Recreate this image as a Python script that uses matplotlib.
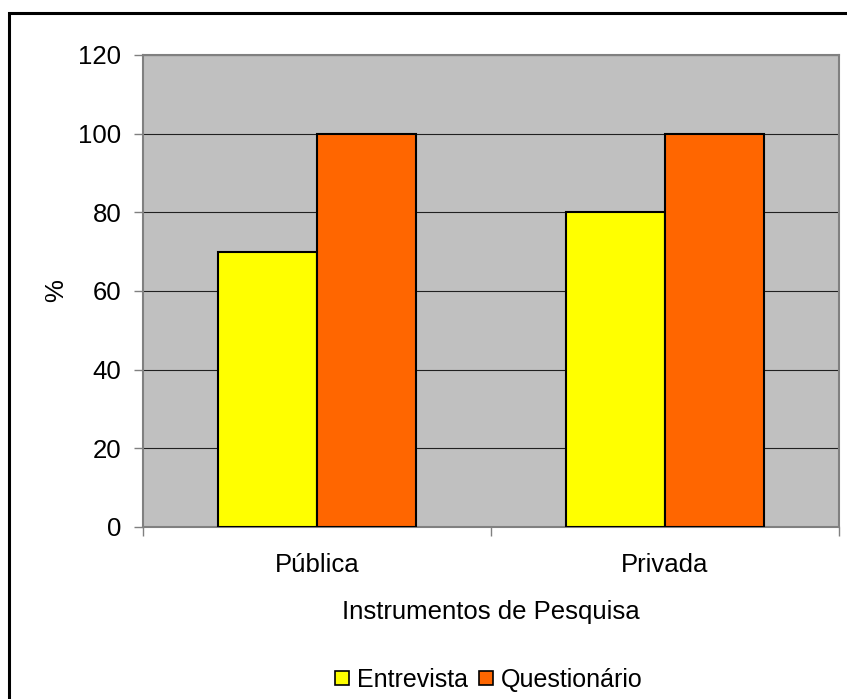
import matplotlib
matplotlib.use("Agg")
import matplotlib.pyplot as plt
from matplotlib.patches import Rectangle
from matplotlib.lines import Line2D
import numpy as np

plt.rcParams["font.family"] = ["Liberation Sans", "DejaVu Sans"]
plt.rcParams["font.size"] = 18.5

categories = ["Pública", "Privada"]
series_names = ["Entrevista", "Questionário"]
entrevista = [70, 80]
questionario = [100, 100]
y_ticks = [0, 20, 40, 60, 80, 100, 120]

colors = ["#FFFF00", "#FF6600"]

fig = plt.figure(figsize=(8.47, 6.99), dpi=100)
ax = fig.add_axes([143 / 847, 172 / 699, 696 / 847, 472 / 699])
ax.set_facecolor("#C0C0C0")

x = np.arange(len(categories))
w = 1 / 3.5
ax.bar(x - w / 2, entrevista, w, color=colors[0], edgecolor="black", linewidth=1.5, zorder=3)
ax.bar(x + w / 2, questionario, w, color=colors[1], edgecolor="black", linewidth=1.5, zorder=3)

ax.set_xlim(-0.5, len(categories) - 0.5)
ax.set_ylim(0, 120)
ax.set_yticks(y_ticks)
ax.yaxis.grid(True, color="#202020", linewidth=0.8, zorder=1)
ax.set_axisbelow(True)

# category labels centred, ticks on the boundaries
ax.set_xticks(x)
ax.set_xticklabels(categories)
ax.set_xticks(np.arange(-0.5, len(categories)), minor=True)
ax.tick_params(axis="x", which="major", length=0, pad=19)
ax.tick_params(axis="x", which="minor", length=6.5, width=1, color="#808080", direction="out")
ax.tick_params(axis="y", length=6.5, width=1, color="#808080", direction="out", pad=9)

for s in ax.spines.values():
    s.set_color("#808080")
    s.set_linewidth(1.5)

ax.set_xlabel("Instrumentos de Pesquisa")
ax.xaxis.set_label_coords(0.5, -0.155)
ax.set_ylabel("%")
ax.yaxis.set_label_coords(-0.108, 0.5)

handles = [Line2D([], [], linestyle="none", marker="s", markersize=10.5,
                  markerfacecolor=c, markeredgecolor="black", markeredgewidth=1.2)
           for c in colors]
fig.legend(handles, series_names, loc="center", bbox_to_anchor=(488 / 847, 0.027),
           ncol=2, frameon=False, handlelength=0.7, handletextpad=0.25,
           columnspacing=0.35, borderaxespad=0, fontsize=18)

# chart border
fig.patches.append(Rectangle((8.5 / 847, -0.05), 1.2, (699 - 12.5) / 699 + 0.05,
                             transform=fig.transFigure, fill=False,
                             edgecolor="black", linewidth=2.2))

fig.savefig("out.png", dpi=100)
